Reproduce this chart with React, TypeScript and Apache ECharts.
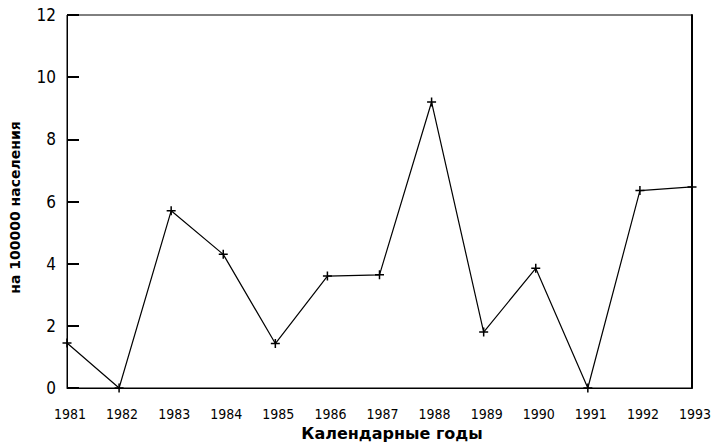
import React, { useEffect, useRef } from "react";
import * as echarts from "echarts";

const years = ["1981", "1982", "1983", "1984", "1985", "1986", "1987", "1988", "1989", "1990", "1991", "1992", "1993"];
const rates = [1.45, 0, 5.7, 4.3, 1.43, 3.6, 3.64, 9.2, 1.8, 3.85, 0, 6.35, 6.47];
const yTicks = { min: 0, max: 12, interval: 2 };
const xTitle = "Календарные годы";
const yTitle = "на 100000 населения";

const plusSymbol =
  "path://M3.75,0H5.25V3.75H9V5.25H5.25V9H3.75V5.25H0V3.75H3.75Z";

const narrow = "'DejaVu Sans Condensed', 'Liberation Sans', sans-serif";

export default function App() {
  const ref = useRef<HTMLDivElement>(null);
  useEffect(() => {
    if (!ref.current) return;
    const chart = echarts.init(ref.current, undefined, { renderer: "svg" });
    chart.setOption({
      animation: false,
      backgroundColor: "#fff",
      grid: {
        left: 63,
        right: 28,
        top: 15,
        bottom: 59,
        show: true,
        borderColor: "#000",
        borderWidth: 1,
      },
      xAxis: {
        type: "category",
        data: years,
        boundaryGap: false,
        axisLine: { lineStyle: { color: "#000", width: 1 } },
        axisTick: { show: false },
        splitLine: { show: false },
        axisLabel: {
          color: "#000",
          fontFamily: narrow,
          fontSize: 14,
          margin: 19,
          padding: [0, 0, 0, 6],
        },
        name: xTitle,
        nameLocation: "middle",
        nameGap: 36,
        nameTextStyle: {
          color: "#000",
          fontFamily: "DejaVu Sans",
          fontWeight: "bold",
          fontSize: 16,
          padding: [0, 0, 0, 25],
        },
      },
      yAxis: [
        {
          type: "value",
          min: yTicks.min,
          max: yTicks.max,
          interval: yTicks.interval,
          axisLine: { show: true, lineStyle: { color: "#000", width: 1 } },
          axisTick: {
            show: true,
            inside: true,
            length: 12,
            lineStyle: { color: "#000", width: 2 },
          },
          splitLine: { show: false },
          axisLabel: {
            color: "#000",
            fontFamily: narrow,
            fontSize: 17,
            margin: 11,
          },
          name: yTitle,
          nameLocation: "middle",
          nameGap: 45,
          nameTextStyle: {
            color: "#000",
            fontFamily: "DejaVu Sans",
            fontWeight: "bold",
            fontSize: 14,
            padding: [0, 12, 0, 0],
          },
        },
        {
          type: "value",
          position: "right",
          min: yTicks.min,
          max: yTicks.max,
          interval: yTicks.interval,
          axisLine: { show: true, lineStyle: { color: "#000", width: 2 } },
          axisTick: { show: false },
          axisLabel: { show: false },
          splitLine: { show: false },
        },
      ],
      series: [
        {
          type: "line",
          data: rates,
          yAxisIndex: 0,
          symbol: plusSymbol,
          symbolSize: 9,
          showAllSymbol: true,
          lineStyle: { color: "#000", width: 1.2 },
          itemStyle: { color: "#000", borderWidth: 0 },
          clip: false,
        },
      ],
    });
    return () => chart.dispose();
  }, []);
  return (
    <div
      ref={ref}
      style={{ position: "fixed", left: 0, top: 0, width: 720, height: 447 }}
    />
  );
}
